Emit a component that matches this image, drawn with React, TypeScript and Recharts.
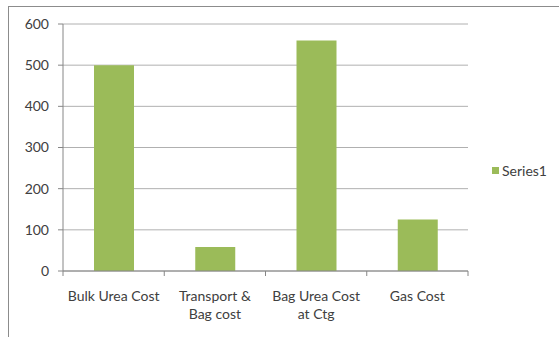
import { BarChart, Bar, XAxis, YAxis, CartesianGrid, Legend } from 'recharts';

// category labels, split where the axis wraps them
const categoryLines = [['Bulk Urea Cost'], ['Transport &', 'Bag cost'], ['Bag Urea Cost', 'at Ctg'], ['Gas Cost']];
const series1 = [500, 58, 560, 125];
const yTicks = [0, 100, 200, 300, 400, 500, 600];

const data = categoryLines.map((lines, i) => ({ name: lines.join(' '), Series1: series1[i] }));

const FONT = 'Lato, "Open Sans", sans-serif';
const FONT_SIZE = 14;
const TEXT = '#404040';
const AXIS = '#868686';
const LABEL_GAP = 20;
const MARK = 5;

// label plus tick marks between categories (and at the right end)
function CategoryTick(props: any) {
  const { x, y, index, payload, visibleTicksCount } = props;
  const lines = categoryLines[index] || [];
  const half = payload.offset || 0;
  const axisY = y - LABEL_GAP;
  return (
    <g>
      <line x1={x - half} x2={x - half} y1={axisY} y2={axisY + MARK} stroke={AXIS} />
      {index === visibleTicksCount - 1 && (
        <line x1={x + half} x2={x + half} y1={axisY} y2={axisY + MARK} stroke={AXIS} />
      )}
      <text x={x} y={y} textAnchor="middle" fontSize={FONT_SIZE} fontFamily={FONT} fill={TEXT}>
        {lines.map((line, i) => (
          <tspan key={i} x={x} dy={i === 0 ? '0.71em' : 18}>
            {line}
          </tspan>
        ))}
      </text>
    </g>
  );
}

function SeriesLegend(props: any) {
  const items = props.payload || [];
  return (
    <div style={{ fontFamily: FONT, fontSize: FONT_SIZE, color: TEXT }}>
      {items.map((item: any) => (
        <div key={item.value} style={{ display: 'flex', alignItems: 'center' }}>
          <span style={{ display: 'inline-block', width: 7, height: 7, background: item.color, marginRight: 3 }} />
          <span>{item.value}</span>
        </div>
      ))}
    </div>
  );
}

export default function App() {
  return (
    <div style={{ position: 'absolute', left: 0, top: 0, width: 559, height: 337, overflow: 'hidden', background: '#fff' }}>
      <div
        style={{
          position: 'absolute',
          left: 8,
          top: 6,
          width: 600,
          height: 400,
          border: '1px solid #8c8c8c',
        }}
      />
      <div style={{ position: 'absolute', left: 0, top: 0 }}>
        <BarChart width={559} height={337} data={data} margin={{ top: 24, right: 91, left: 0, bottom: 0 }}>
          <CartesianGrid vertical={false} stroke="#b0b0b0" />
          <XAxis
            dataKey="name"
            height={66}
            stroke={AXIS}
            tickLine={false}
            tickSize={0}
            tickMargin={LABEL_GAP}
            interval={0}
            tick={<CategoryTick />}
          />
          <YAxis
            width={63}
            domain={[0, 600]}
            ticks={yTicks}
            tickSize={5}
            tickMargin={9}
            stroke={AXIS}
            tick={{ fill: TEXT, fontSize: FONT_SIZE, fontFamily: FONT }}
          />
          <Legend
            layout="horizontal"
            verticalAlign="middle"
            align="center"
            content={<SeriesLegend />}
            wrapperStyle={{ position: 'absolute', left: 492, top: 162, width: 'auto' }}
          />
          <Bar dataKey="Series1" fill="#9bbb59" barSize={40} isAnimationActive={false} />
        </BarChart>
      </div>
    </div>
  );
}
